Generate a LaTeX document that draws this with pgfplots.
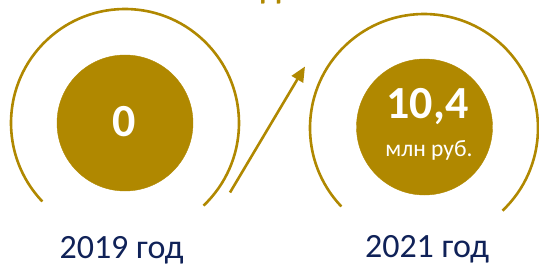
\documentclass[border=0pt]{standalone}
\usepackage{pgfplots}
\pgfplotsset{compat=1.18}
\usepackage{fontspec}
\setmainfont{Carlito}
\usetikzlibrary{arrows.meta}
\definecolor{gold}{RGB}{176,136,0}
\definecolor{navy}{RGB}{16,34,88}
\begin{document}
\begin{tikzpicture}
\begin{axis}[
  width=539pt, height=263pt, scale only axis,
  xmin=0, xmax=539, ymin=0, ymax=263, y dir=reverse,
  hide axis, clip=false, set layers,
]
% filled value circles (x, y, in picture units)
\addplot[only marks, mark=*, mark size=68pt, color=gold, mark options={draw=none, fill=gold}]
  coordinates {(125,123) (424.5,127)};
% outer arcs
\draw[gold, line width=2.6pt] ([shift={(-46.5:114pt)}]axis cs:125,123) arc[start angle=-46.5, end angle=223.5, radius=114pt];
\draw[gold, line width=2.6pt] ([shift={(-46.5:114pt)}]axis cs:424,128) arc[start angle=-46.5, end angle=223.5, radius=114pt];
% arrow
\draw[gold, line width=2.6pt, -{Triangle[length=15pt,width=13pt]}] (axis cs:230,192.5) -- (axis cs:305,66.5);
% values
\begin{pgfonlayer}{axis foreground}
\node[text=white, font=\bfseries\fontsize{46}{46}\selectfont, anchor=base] at (axis cs:124,136.5) {0};
\node[text=white, font=\bfseries\fontsize{46}{46}\selectfont, anchor=base] at (axis cs:427.5,118.3) {10,4};
\node[text=white, font=\fontsize{23.5}{23.5}\selectfont, anchor=base] at (axis cs:429,156.7) {млн руб.};
\end{pgfonlayer}
% years
\node[text=navy, font=\fontsize{34}{34}\selectfont, anchor=base] at (axis cs:121.5,258) {2019 год};
\node[text=navy, font=\fontsize{34}{34}\selectfont, anchor=base] at (axis cs:427,257) {2021 год};
% title fragment cut off at the top
\node[text=gold, font=\bfseries\fontsize{30}{30}\selectfont, anchor=base] at (axis cs:271,-0.5) {Д};
\end{axis}
\pgfresetboundingbox
\useasboundingbox (0,0) rectangle (539pt,263pt);
\end{tikzpicture}
\end{document}
